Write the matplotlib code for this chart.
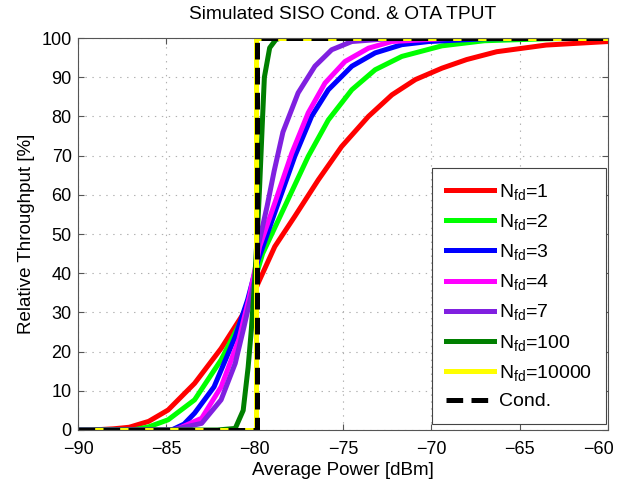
import matplotlib
matplotlib.use("Agg")
import matplotlib.pyplot as plt
import matplotlib.transforms as mtransforms

plt.rcParams['font.family'] = ['Liberation Sans', 'DejaVu Sans']
plt.rcParams['font.size'] = 13
plt.rcParams['lines.scale_dashes'] = False

# ---- data ----
x_n1 = [-90, -89.2, -88, -87.1, -86, -84.9, -83.4, -81.9, -80.75, -80.2, -79.8, -78.86, -77.73,
        -76.4, -75.08, -73.56, -72.23, -70.9, -69.4, -68.0, -66.3, -63.5, -60]
y_n1 = [0, 0, 0.3, 0.7, 2.2, 5.1, 11.9, 20.8, 28.9, 33.2, 37.5, 46.8, 54.5,
        63.8, 72.3, 80, 85.5, 89.4, 92.3, 94.5, 96.5, 98.2, 99.1]

x_n2 = [-90, -86.9, -86, -84.9, -83.4, -81.9, -80.75, -80.1, -79.55, -78.3, -76.97, -75.83,
        -74.5, -73.18, -71.67, -69.4, -67, -63.5, -60]
y_n2 = [0, 0, 0.8, 2.6, 7.7, 17.9, 28, 36.6, 45, 57, 69.8, 79.1,
        86.8, 91.9, 95.3, 98.0, 99.3, 99.8, 100]

x_n3 = [-90, -84.7, -84, -83.4, -82.3, -81.1, -80.4, -79.8, -78.67, -77.73, -76.78, -75.83,
        -74.5, -73.18, -71.67, -70.15, -67, -60]
y_n3 = [0, 0, 1.5, 4.3, 11, 23.8, 33.2, 43.4, 57.9, 69.8, 80, 86.8,
        92.8, 96.2, 98.3, 99.1, 99.8, 100]

x_n4 = [-90, -84.5, -83.0, -81.9, -80.9, -80.3, -79.72, -78.86, -77.9, -76.97, -76.02, -74.89,
        -73.56, -72.23, -69, -60]
y_n4 = [0, 0, 3, 11, 23, 34, 46.8, 57.9, 70.6, 80.9, 88.5, 94,
        97.4, 99.1, 99.9, 100]

x_n7 = [-90, -84.7, -83.0, -81.9, -81.1, -80.6, -80.0, -79.81, -79.3, -78.9, -78.4, -77.54,
        -76.59, -75.64, -74.5, -72.5, -60]
y_n7 = [0, 0, 1.7, 7.7, 17, 26.4, 38.3, 46.8, 57, 66, 76, 86,
        92.8, 97, 99.1, 99.8, 100]

x_n100 = [-90, -82.1, -81.1, -80.65, -80.37, -80.19, -80.0, -79.81, -79.72, -79.55, -79.45,
          -79.15, -78.8, -78.5, -60]
y_n100 = [0, 0, 0.4, 5, 16, 25.5, 38, 53.6, 62, 80, 90, 97.5, 99.6, 100, 100]

x_n10000 = [-90, -79.95, -79.95, -60]
y_n10000 = [0, 0, 100, 100]

x_cond = [-90, -79.85, -79.85, -60]
y_cond = [0, 0, 100, 100]

labels = ['1', '2', '3', '4', '7', '100', '10000']
colors = ['#FF0000', '#00FF00', '#0000FF', '#FF00FF', '#8020E0', '#007F00', '#FFFF00']
series = [(x_n1, y_n1), (x_n2, y_n2), (x_n3, y_n3), (x_n4, y_n4),
          (x_n7, y_n7), (x_n100, y_n100), (x_n10000, y_n10000)]

xticks = [-90, -85, -80, -75, -70, -65, -60]
yticks = [0, 10, 20, 30, 40, 50, 60, 70, 80, 90, 100]

fig = plt.figure(figsize=(6.18, 4.84), dpi=100)
ax = fig.add_axes([78 / 618, 54 / 484, 530 / 618, 392 / 484])

lw = 3.6
for (xs, ys), lab, c in zip(series, labels, colors):
    ax.plot(xs, ys, color=c, lw=lw, label=r'$\mathregular{N_{fd}}$=' + lab,
            solid_joinstyle='round')
ax.plot(x_cond, y_cond, color='black', lw=lw, dashes=(12, 6), label='Cond.')

ax.set_xlim(-90, -60)
ax.set_ylim(0, 100)
ax.set_xticks(xticks)
ax.set_yticks(yticks)
ax.grid(True, linestyle=(0, (1, 4)), color='#b0b0b0', lw=0.8)
ax.tick_params(direction='in', top=True, right=True, length=4, color='#555555',
               labelsize=13)
ax.tick_params(axis='x', pad=8)
ax.tick_params(axis='y', pad=4.5)
for s in ax.spines.values():
    s.set_color('#555555')
    s.set_linewidth(0.8)

# shift the last x tick label inward like the reference
lbl = ax.get_xticklabels()[-1]
lbl.set_transform(lbl.get_transform() +
                  mtransforms.ScaledTranslation(-7 / 72, 0, fig.dpi_scale_trans))

ax.set_xlabel('Average Power [dBm]', fontsize=13.5, labelpad=3)
ax.set_ylabel('Relative Throughput [%]', fontsize=13.5, labelpad=5)
ax.set_title('Simulated SISO Cond. & OTA TPUT', fontsize=13.8, pad=13.4)

leg = ax.legend(loc='lower right', bbox_to_anchor=(606 / 618, 60 / 484),
                bbox_transform=fig.transFigure, borderaxespad=0,
                fontsize=14, handlelength=2.5, labelspacing=0.52,
                fancybox=False, framealpha=1, edgecolor='#444444',
                handletextpad=0.25, borderpad=0.7)
leg.get_frame().set_linewidth(0.8)

fig.savefig('out.png', dpi=100)
